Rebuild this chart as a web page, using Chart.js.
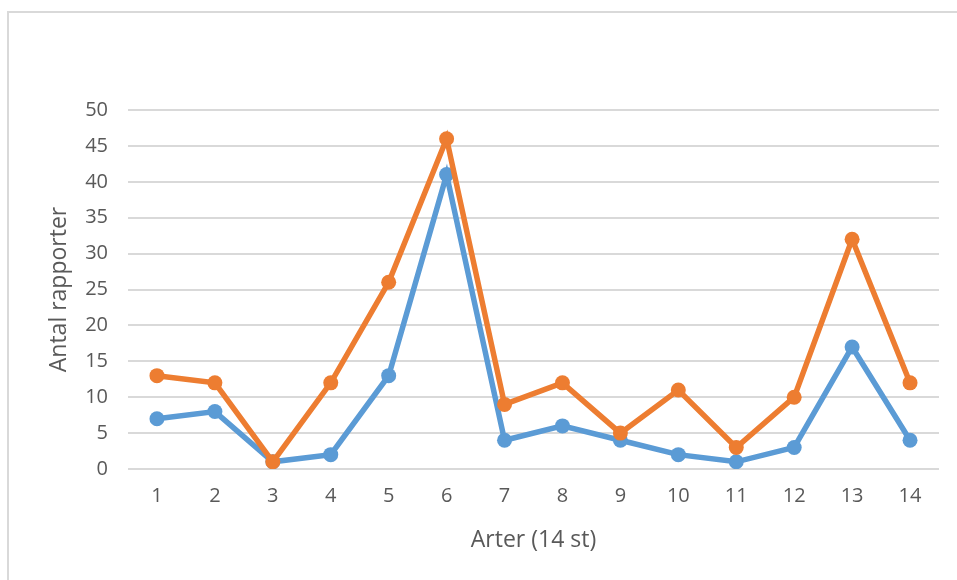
<!DOCTYPE html>
<html>
<head>
<meta charset="utf-8">
<script src="https://cdn.jsdelivr.net/npm/chart.js@4/dist/chart.umd.min.js"></script>
<style>
  html, body { margin: 0; padding: 0; background: #ffffff; }
  #wrap { position: relative; width: 957px; height: 580px; overflow: hidden; }
  #frame {
    position: absolute; left: 7px; top: 11px; width: 1000px; height: 700px;
    border-left: 2px solid #d9d9d9; border-top: 2px solid #d9d9d9; box-sizing: border-box;
  }
  canvas { position: absolute; left: 0; top: 0; }
</style>
</head>
<body>
<div id="wrap">
  <div id="frame"></div>
  <canvas id="chart" width="957" height="580"></canvas>
</div>
<script>
// Species numbers along the x axis
const categories = ['1','2','3','4','5','6','7','8','9','10','11','12','13','14'];
// Number of reports per species, two series
const seriesBlue   = [7, 8, 1, 2, 13, 41, 4, 6, 4, 2, 1, 3, 17, 4];
const seriesOrange = [13, 12, 1, 12, 26, 46, 9, 12, 5, 11, 3, 10, 32, 12];
// Value axis
const yMin = 0, yMax = 50, yStep = 5;

const FONT = "'Open Sans', 'Liberation Sans', sans-serif";
const TEXT = '#595959';
const GRID = '#d9d9d9';
const BLUE = '#5B9BD5';
const ORANGE = '#ED7D31';

new Chart(document.getElementById('chart'), {
  type: 'line',
  data: {
    labels: categories,
    datasets: [
      {
        data: seriesBlue,
        borderColor: BLUE, backgroundColor: BLUE,
        borderWidth: 5.5, pointRadius: 7.5, pointHoverRadius: 7.5,
        pointBorderWidth: 0, tension: 0, order: 1
      },
      {
        data: seriesOrange,
        borderColor: ORANGE, backgroundColor: ORANGE,
        borderWidth: 5.5, pointRadius: 7.5, pointHoverRadius: 7.5,
        pointBorderWidth: 0, tension: 0, order: 0
      }
    ]
  },
  options: {
    responsive: false,
    animation: false,
    layout: { padding: { left: 44, top: 110, right: 18, bottom: 0 } },
    plugins: { legend: { display: false }, tooltip: { enabled: false } },
    scales: {
      x: {
        offset: true,
        grid: { display: false, drawTicks: false },
        border: { display: false },
        ticks: { color: TEXT, font: { family: FONT, size: 20 }, padding: 15, maxRotation: 0 },
        title: {
          display: true, text: 'Arter (14 st)', color: TEXT,
          font: { family: FONT, size: 23 }, padding: { top: 0, bottom: 26 }
        },
        afterFit: (s) => { s.height = 111; }
      },
      y: {
        min: yMin, max: yMax,
        grid: { color: GRID, lineWidth: 2, drawTicks: false },
        border: { display: false },
        ticks: { stepSize: yStep, color: TEXT, font: { family: FONT, size: 20 }, padding: 20 },
        title: {
          display: true, text: 'Antal rapporter', color: TEXT,
          font: { family: FONT, size: 23 }, padding: { top: 2, bottom: 0 }
        },
        afterFit: (s) => { s.width = 84; }
      }
    }
  }
});
</script>
</body>
</html>
